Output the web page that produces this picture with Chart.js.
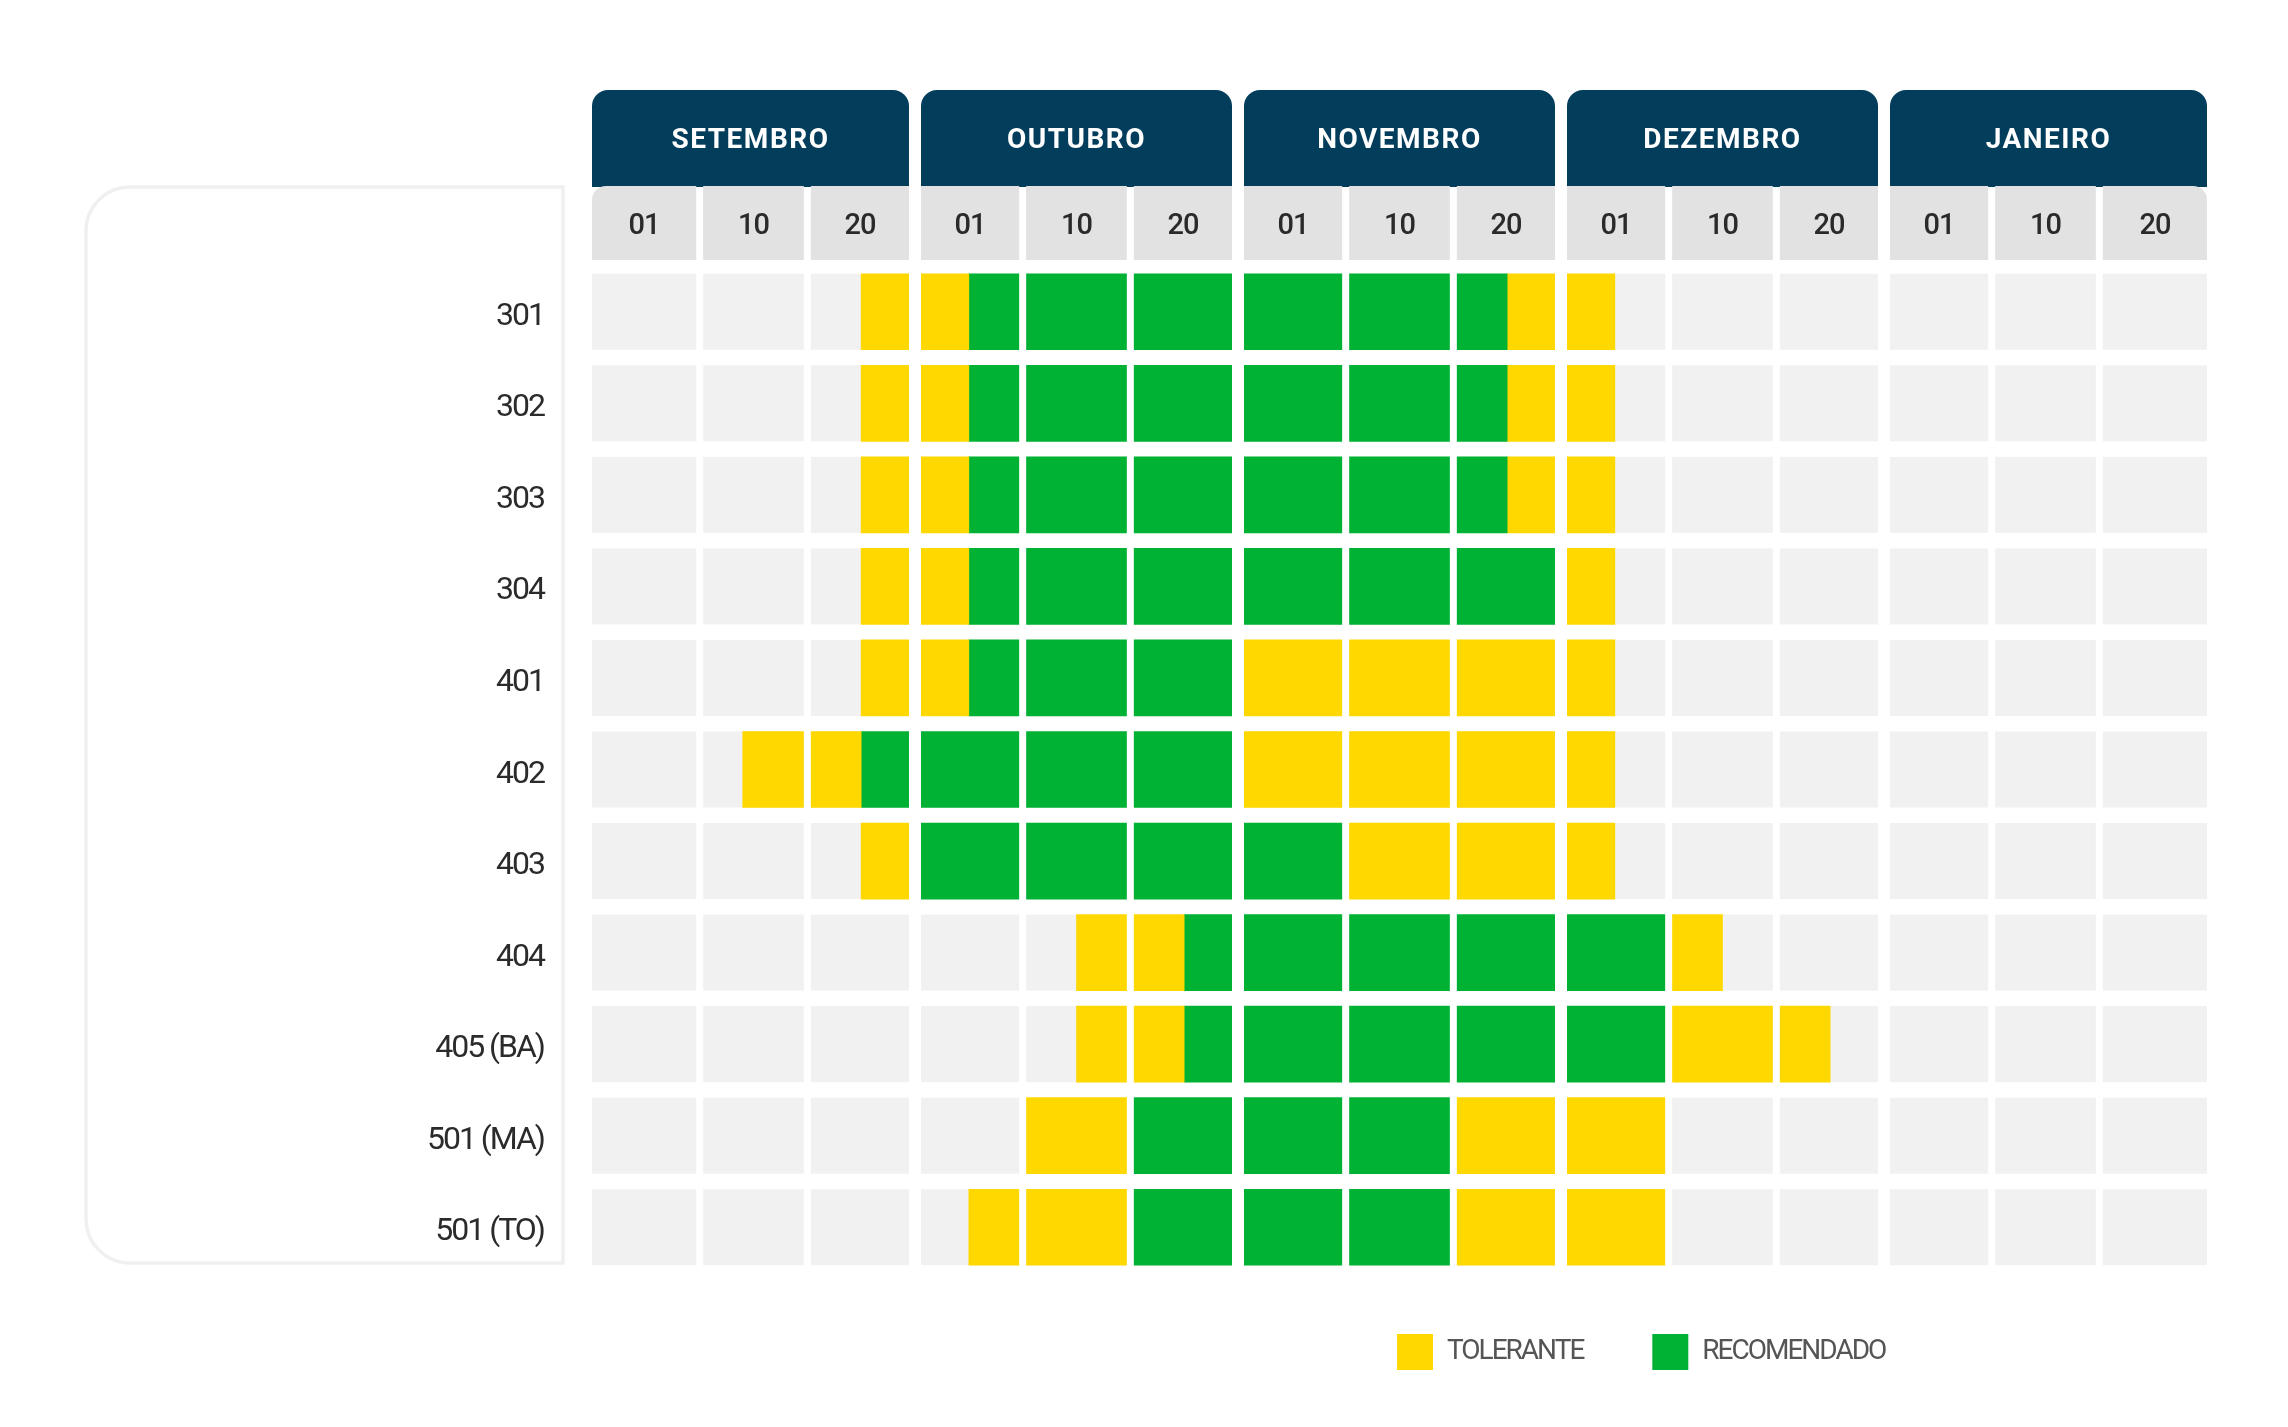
<!DOCTYPE html>
<html lang="pt-BR">
<head>
<meta charset="UTF-8">
<title>Época de plantio por cultivar</title>
<script src="https://cdn.jsdelivr.net/npm/chart.js@4"></script>
<style>
  html, body { margin: 0; padding: 0; background: #fff; }
  #grafico { display: block; }
</style>
</head>
<body>
<canvas id="grafico" width="2288" height="1427"></canvas>
<script>
// Eixo x em decêndios: 0 = 01/set, 1 = 10/set, 2 = 20/set, 3 = 01/out ... 15 = fim de janeiro
const cultivares = ['301', '302', '303', '304', '401', '402', '403', '404', '405 (BA)', '501 (MA)', '501 (TO)'];
const meses = ['SETEMBRO', 'OUTUBRO', 'NOVEMBRO', 'DEZEMBRO', 'JANEIRO'];
const decendios = ['01', '10', '20'];

// Períodos [início, fim] em decêndios
const toleranteInicio = [
  [2.5, 3.5], [2.5, 3.5], [2.5, 3.5], [2.5, 3.5], [2.5, 3.5], [1.4, 2.5],
  [2.5, 3], [4.5, 5.5], [4.5, 5.5], [4, 5], [3.5, 5]
];
const recomendado = [
  [3.5, 8.5], [3.5, 8.5], [3.5, 8.5], [3.5, 9], [3.5, 6], [2.5, 6],
  [3, 7], [5.5, 10], [5.5, 10], [5, 8], [5, 8]
];
const toleranteFim = [
  [8.5, 9.5], [8.5, 9.5], [8.5, 9.5], [9, 9.5], [6, 9.5], [6, 9.5],
  [7, 9.5], [10, 10.5], [10, 11.5], [8, 10], [8, 10]
];

// Estilo
const AMARELO = '#ffd800';
const VERDE = '#00b233';
const AZUL = '#033d5c';
const CINZA_CELULA = '#f0f1f0';
const CINZA_CABECALHO = '#e2e2e2';
const ALTURA_BARRA = 76;
const VAO_MES = 12;
const VAO_DECENDIO = 7;

const vao = (k) => (k % 3 === 0 ? VAO_MES : VAO_DECENDIO);

// Plugin: moldura, cabeçalho dos meses, fundo cinza e vãos brancos
const calendario = {
  id: 'calendario',
  afterLayout(chart) {
    // posiciona a legenda à direita, como no original
    const lg = chart.legend;
    if (!lg) return;
    const pad = lg.options.labels.padding;
    const dx = 1397 - (lg.left + pad);
    const dy = 1334 - (lg.top + pad);
    lg.left += dx; lg.right += dx;
    lg.top += dy; lg.bottom += dy;
  },
  beforeDraw(chart) {
    const ctx = chart.ctx;
    const x = chart.scales.x;
    ctx.letterSpacing = '-2px';

    ctx.save();
    ctx.letterSpacing = '0px';

    // moldura dos rótulos
    ctx.strokeStyle = '#f0f0f0';
    ctx.lineWidth = 3.5;
    ctx.beginPath();
    ctx.roundRect(86, 187, 477, 1076, [44, 0, 0, 44]);
    ctx.stroke();

    // meses
    meses.forEach((mes, m) => {
      const esq = x.getPixelForValue(m * 3) + (m > 0 ? VAO_MES / 2 : 0);
      const dir = x.getPixelForValue(m * 3 + 3) - (m < meses.length - 1 ? VAO_MES / 2 : 0);
      ctx.fillStyle = AZUL;
      ctx.beginPath();
      ctx.roundRect(esq, 90, dir - esq, 97, [16, 16, 0, 0]);
      ctx.fill();
      ctx.fillStyle = '#ffffff';
      ctx.font = 'bold 28px Roboto';
      ctx.letterSpacing = '1.5px';
      ctx.textAlign = 'center';
      ctx.textBaseline = 'middle';
      ctx.fillText(mes, (esq + dir) / 2, 141);
    });

    // decêndios
    const total = meses.length * decendios.length;
    for (let k = 0; k < total; k++) {
      const esq = x.getPixelForValue(k) + (k > 0 ? vao(k) / 2 : 0);
      const dir = x.getPixelForValue(k + 1) - (k < total - 1 ? vao(k + 1) / 2 : 0);
      const raio = k === 0 ? [14, 0, 0, 0] : (k === total - 1 ? [0, 14, 0, 0] : 0);
      ctx.fillStyle = CINZA_CABECALHO;
      ctx.beginPath();
      ctx.roundRect(esq, 186, dir - esq, 74, raio);
      ctx.fill();
      ctx.fillStyle = '#2a2a2a';
      ctx.font = '500 29px Roboto';
      ctx.letterSpacing = '-1px';
      ctx.textAlign = 'center';
      ctx.textBaseline = 'middle';
      ctx.fillText(decendios[k % 3], (esq + dir) / 2, 227);
    }
    ctx.restore();
  },
  beforeDatasetsDraw(chart) {
    const ctx = chart.ctx;
    const x = chart.scales.x;
    const y = chart.scales.y;
    ctx.save();
    ctx.fillStyle = CINZA_CELULA;
    cultivares.forEach((c, i) => {
      const yc = y.getPixelForValue(i);
      ctx.fillRect(x.left, yc - ALTURA_BARRA / 2, x.right - x.left, ALTURA_BARRA);
    });
    ctx.restore();
  },
  afterDatasetsDraw(chart) {
    const ctx = chart.ctx;
    const x = chart.scales.x;
    const area = chart.chartArea;
    ctx.save();
    ctx.fillStyle = '#ffffff';
    for (let k = 1; k < meses.length * decendios.length; k++) {
      const g = vao(k);
      ctx.fillRect(x.getPixelForValue(k) - g / 2, area.top, g, area.bottom - area.top);
    }
    ctx.restore();
  },
  afterDraw(chart) {
    chart.ctx.letterSpacing = '0px';
  }
};

const barra = {
  grouped: false,
  barThickness: ALTURA_BARRA,
  borderWidth: 0
};

new Chart(document.getElementById('grafico'), {
  type: 'bar',
  data: {
    labels: cultivares,
    datasets: [
      Object.assign({ label: 'TOLERANTE', data: toleranteInicio, backgroundColor: AMARELO }, barra),
      Object.assign({ label: 'RECOMENDADO', data: recomendado, backgroundColor: VERDE }, barra),
      Object.assign({ label: 'TOLERANTE', data: toleranteFim, backgroundColor: AMARELO }, barra)
    ]
  },
  options: {
    indexAxis: 'y',
    responsive: false,
    animation: false,
    layout: { padding: { top: 266, right: 81, bottom: 39, left: 0 } },
    scales: {
      x: { type: 'linear', min: 0, max: 15, display: false },
      y: {
        grid: { display: false, drawTicks: false },
        border: { display: false },
        ticks: {
          autoSkip: false,
          padding: 48,
          labelOffset: 5,
          color: '#2b2b2b',
          font: { family: 'Roboto', size: 32 }
        },
        afterFit(scale) { scale.width = 592; }
      }
    },
    plugins: {
      tooltip: { enabled: false },
      legend: {
        position: 'bottom',
        align: 'start',
        labels: {
          boxWidth: 36,
          boxHeight: 36,
          padding: 69,
          color: '#555555',
          font: { family: 'Roboto', size: 28 },
          filter: (item) => item.datasetIndex < 2
        }
      }
    }
  },
  plugins: [calendario]
});
</script>
</body>
</html>
